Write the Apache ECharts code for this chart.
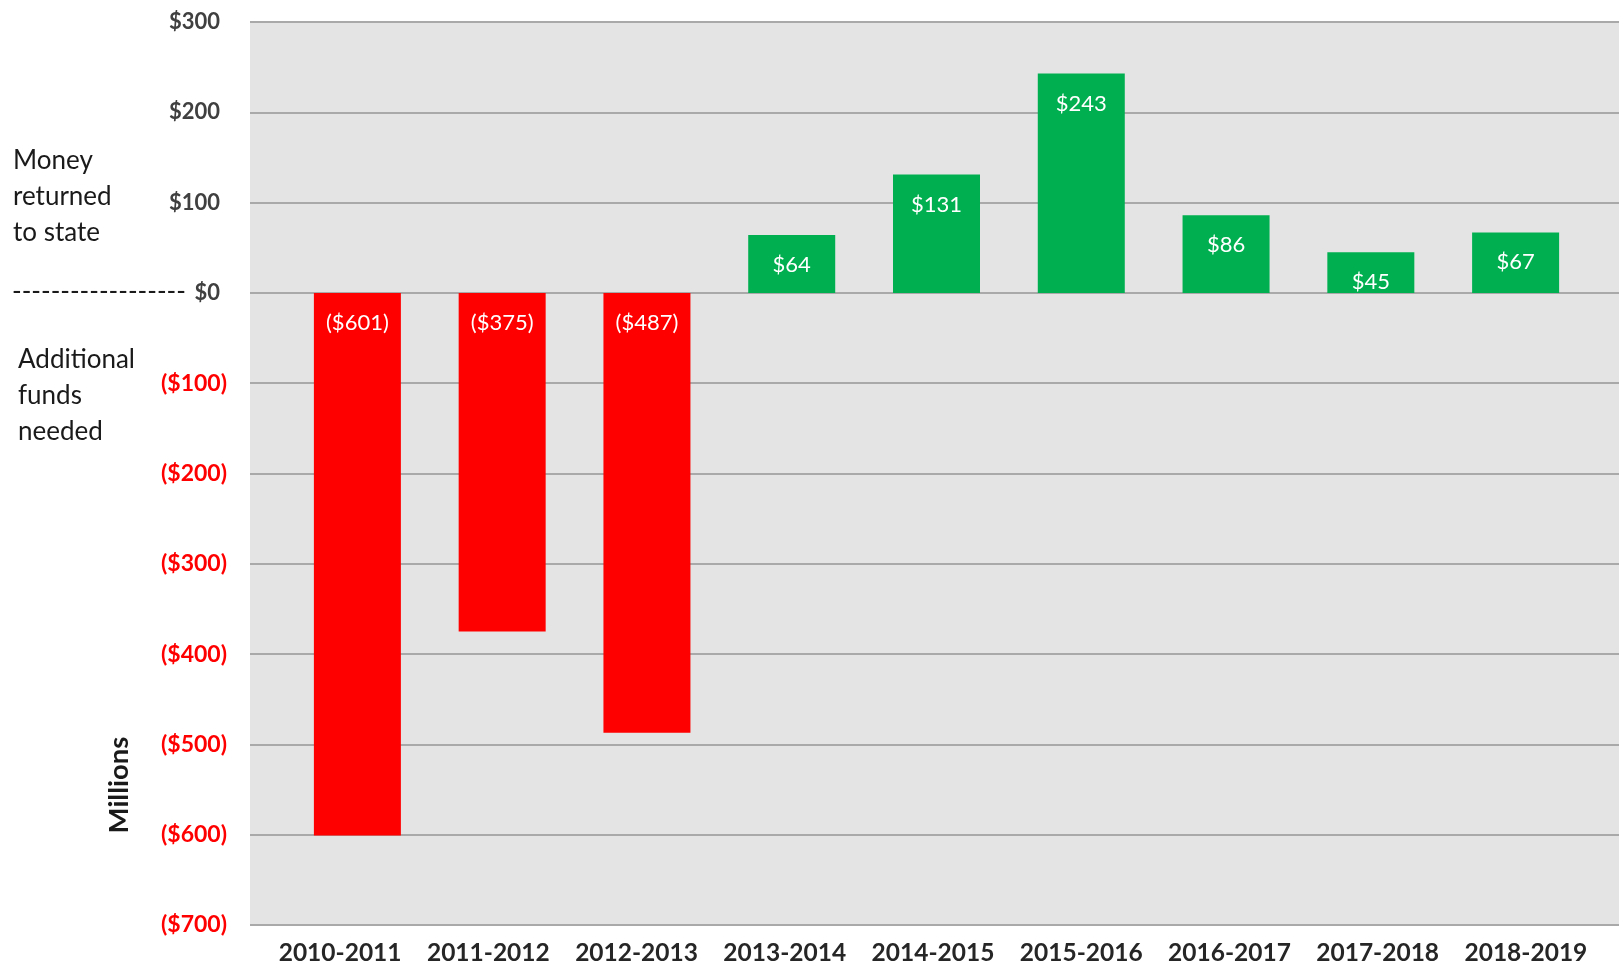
<!DOCTYPE html>
<html>
<head>
<meta charset="utf-8">
<script src="https://cdn.jsdelivr.net/npm/echarts@6/dist/echarts.min.js"></script>
<style>
html,body{margin:0;padding:0;background:#fff;}
#chart{width:1619px;height:966px;}
</style>
</head>
<body>
<div id="chart"></div>
<script>
var categories = ['2010-2011','2011-2012','2012-2013','2013-2014','2014-2015','2015-2016','2016-2017','2017-2018','2018-2019'];
var values = [-601, -375, -487, 64, 131, 243, 86, 45, 67];
var yTicks = [-700, -600, -500, -400, -300, -200, -100, 0, 100, 200, 300];
var upperNote = ['Money', 'returned', 'to state'];
var lowerNote = ['Additional', 'funds', 'needed'];
var unitLabel = 'Millions';
var zeroDashes = '------------------';

var yMin = yTicks[0], yMax = yTicks[yTicks.length - 1], yStep = yTicks[1] - yTicks[0];
var FONT = 'Lato';

function money(v) {
  return v < 0 ? '($' + (-v) + ')' : '$' + v;
}

var chart = echarts.init(document.getElementById('chart'));
var gTop = 22, gBottom = 41;

var option = {
  animation: false,
  backgroundColor: '#ffffff',
  textStyle: { fontFamily: FONT },
  grid: [
    { left: 250, right: 0, top: gTop, bottom: gBottom, show: true, backgroundColor: '#e4e4e4', borderWidth: 0 },
    { left: 285, right: 31, top: gTop, bottom: gBottom },
    { left: 266, right: 19, top: gTop, bottom: gBottom }
  ],
  xAxis: [
    { gridIndex: 0, type: 'category', data: categories, show: false },
    { gridIndex: 1, type: 'category', data: categories, show: false },
    { gridIndex: 2, type: 'category', data: categories,
      axisLine: { show: false }, axisTick: { show: false }, splitLine: { show: false },
      axisLabel: { fontFamily: FONT, fontSize: 24.5, fontWeight: 'bold', color: '#262626', margin: 19, interval: 0 } }
  ],
  yAxis: [
    { gridIndex: 0, type: 'value', min: yMin, max: yMax, interval: yStep,
      axisLine: { show: false }, axisTick: { show: false },
      splitLine: { show: true, lineStyle: { color: '#a9a9a9', width: 2 } },
      axisLabel: {
        margin: 23,
        formatter: function (v) {
          return v < 0 ? '{n|' + money(v) + '}' : '{p|' + money(v) + '}';
        },
        rich: {
          n: { fontFamily: FONT, fontSize: 23, fontWeight: 'bold', color: '#ff0000' },
          p: { fontFamily: FONT, fontSize: 22, fontWeight: 'bold', color: '#404040', padding: [0, 7, 0, 0] }
        }
      } },
    { gridIndex: 1, type: 'value', min: yMin, max: yMax, interval: yStep, show: false, splitLine: { show: false } },
    { gridIndex: 2, type: 'value', min: yMin, max: yMax, interval: yStep, show: false, splitLine: { show: false } }
  ],
  series: [
    {
      type: 'bar',
      xAxisIndex: 1,
      yAxisIndex: 1,
      barWidth: 87,
      data: values.map(function (v) {
        return { value: v, itemStyle: { color: v < 0 ? '#ff0000' : '#00b050' } };
      }),
      label: {
        show: true,
        position: 'insideTop',
        distance: 19,
        color: '#ffffff',
        fontFamily: FONT,
        fontSize: 22,
        formatter: function (p) { return money(p.value); }
      }
    }
  ],
  graphic: [
    { type: 'text', left: 13, top: 143, style: { text: upperNote.join('\n'), fontFamily: FONT, fontSize: 26, lineHeight: 36, fill: '#1a1a1a' } },
    { type: 'text', left: 18, top: 342, style: { text: lowerNote.join('\n'), fontFamily: FONT, fontSize: 26, lineHeight: 36, fill: '#1a1a1a' } },
    { type: 'text', x: 12, y: 292, style: { text: zeroDashes, fontFamily: FONT, fontSize: 26, fill: '#1a1a1a', verticalAlign: 'middle', align: 'left' } },
    { type: 'text', x: 119, y: 785, rotation: Math.PI / 2, style: { text: unitLabel, fontFamily: FONT, fontSize: 27.5, fontWeight: 'bold', fill: '#1a1a1a', align: 'center', verticalAlign: 'middle' } }
  ]
};
chart.setOption(option);
</script>
</body>
</html>
